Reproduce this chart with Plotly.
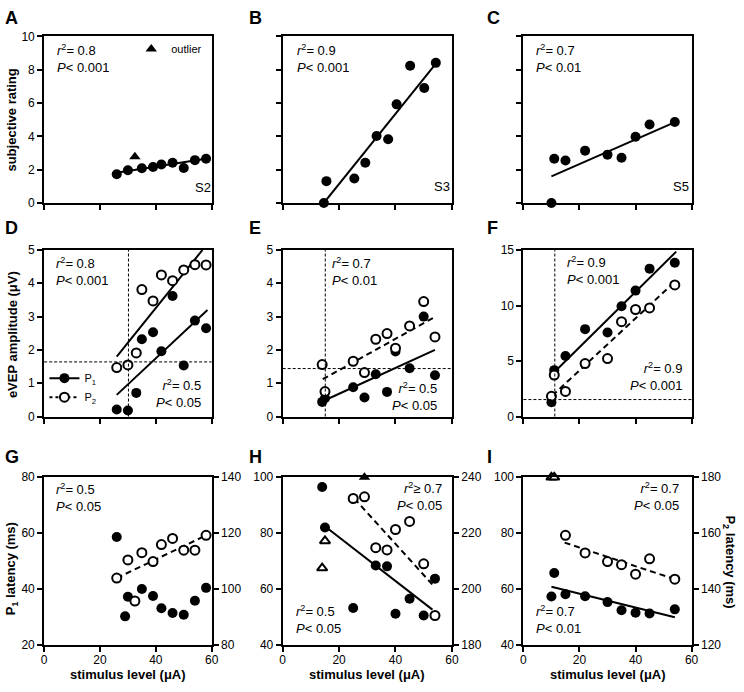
import plotly.graph_objects as go

FONT = "Liberation Sans, Arial, sans-serif"
W, H = 744, 692

# ---- row 1: subjective rating vs stimulus level ----
s2_x = [26, 30, 35, 39, 42, 46, 50, 54, 58]
s2_y = [1.72, 1.96, 2.08, 2.16, 2.31, 2.41, 2.10, 2.57, 2.65]
s2_out_x = [32.5]
s2_out_y = [2.78]
s2_fit_x = [26, 59]
s2_fit_y = [1.82, 2.68]

s3_x = [14.6, 15.5, 25.4, 29.3, 33.3, 37.4, 40.4, 45.2, 50.2, 54.3]
s3_y = [0, 1.31, 1.47, 2.41, 4.02, 3.82, 5.92, 8.24, 6.9, 8.41]
s3_fit_x = [14.6, 54.6]
s3_fit_y = [0, 8.43]

s5_x = [10, 11, 15, 22, 30, 35, 40, 45, 54]
s5_y = [0, 2.65, 2.55, 3.14, 2.90, 2.71, 3.98, 4.71, 4.86]
s5_fit_x = [10, 54.5]
s5_fit_y = [1.6, 4.88]

# ---- row 2: eVEP amplitude (uV) ----
d_x = [26, 30, 33, 35, 39, 42, 46, 50, 54, 58]
d_p1 = [0.21, 0.18, 0.71, 2.32, 2.53, 1.96, 3.62, 1.53, 2.88, 2.65]
d_p2 = [1.47, 1.55, 1.91, 3.81, 3.47, 4.25, 4.08, 4.40, 4.56, 4.55]
d_fit_p1_x, d_fit_p1_y = [26, 58.5], [0.65, 3.2]
d_fit_p2_x, d_fit_p2_y = [26, 56.7], [1.8, 5.0]
d_thr_x, d_thr_y = 30.2, 1.64

e_x = [14, 15, 25, 29, 33, 37, 40, 45, 50, 54]
e_p1 = [0.44, 0.55, 0.88, 0.57, 1.27, 0.74, 1.95, 1.45, 3.0, 1.24]
e_p2 = [1.56, 0.75, 1.66, 1.32, 2.32, 2.49, 2.05, 2.72, 3.45, 2.39]
e_fit_p1_x, e_fit_p1_y = [14.2, 54], [0.46, 2.0]
e_fit_p2_x, e_fit_p2_y = [14.2, 54.2], [1.12, 3.0]
e_thr_x, e_thr_y = 15.1, 1.44

f_x = [10, 11, 15, 22, 30, 35, 40, 45, 54]
f_p1 = [1.29, 4.18, 5.45, 7.87, 7.57, 9.93, 11.34, 13.32, 13.85]
f_p2 = [1.82, 3.74, 2.26, 4.77, 5.22, 8.54, 9.64, 9.78, 11.85]
f_fit_p1_x, f_fit_p1_y = [10.8, 54.5], [3.94, 14.85]
f_fit_p2_x, f_fit_p2_y = [10.3, 54.3], [1.88, 12.2]
f_thr_x, f_thr_y = 11.2, 1.53

# ---- row 3: latencies (ms) ----
g_p1_x = [26, 30, 29, 35, 39, 42, 46, 50, 54, 58]
g_p1 = [58.6, 37.2, 30.2, 40.0, 37.5, 33.1, 31.4, 30.8, 35.8, 40.4]
g_p2_x = [26, 30, 32.5, 35, 39, 42, 46, 50, 54, 58]
g_p2 = [103.9, 110.4, 95.7, 113.0, 109.8, 115.9, 118.1, 113.9, 113.9, 119.2]
g_fit_p2_x, g_fit_p2_y = [26, 58], [103.9, 119.2]

h_p1_x = [14, 15, 25, 33, 37, 40, 45, 50, 54]
h_p1 = [96.5, 82.0, 53.2, 68.4, 68.1, 51.1, 56.5, 50.5, 63.7]
h_p1_out_x, h_p1_out_y = [29], [100]
h_p2_x = [25, 29, 33, 37, 40, 45, 50, 54]
h_p2 = [232.4, 233.0, 214.8, 214.0, 221.3, 224.2, 209.0, 190.5]
h_p2_out_x, h_p2_out_y = [15, 14], [217.2, 207.5]
h_fit_p1_x, h_fit_p1_y = [15.3, 53.1], [82.2, 52.6]
h_fit_p2_x, h_fit_p2_y = [25.4, 53.8], [232.4, 200.8]

i_p1_x = [10, 11, 15, 22, 30, 35, 40, 45, 54]
i_p1 = [57.3, 65.7, 58.1, 57.4, 55.3, 52.4, 51.5, 51.2, 52.7]
i_p2_x = [15, 22, 30, 35, 40, 45, 54]
i_p2 = [159.2, 152.9, 149.8, 148.7, 145.3, 150.8, 143.5]
i_p2_out_x, i_p2_out_y = [10, 11], [180, 180]
i_fit_p1_x, i_fit_p1_y = [10, 54], [60.8, 49.9]
i_fit_p2_x, i_fit_p2_y = [14.7, 53.4], [156.6, 143.7]

# panel boxes in pixels
col_px = [(41.7, 211.5), (283.5, 455), (527.5, 698)]
row_px = [(30, 200), (248, 418), (480, 651)]


def xdom(c):
    return [col_px[c][0] / W, col_px[c][1] / W]


def ydom(r):
    return [1 - row_px[r][1] / H, 1 - row_px[r][0] / H]


def xa(n):
    return "x" if n == 1 else f"x{n}"


def ya(n):
    return "y" if n == 1 else f"y{n}"


fig = go.Figure()

FILLED = dict(symbol="circle", size=10, color="black")
OPEN = dict(symbol="circle", size=9, color="white", line=dict(color="black", width=2))
TRI = dict(symbol="triangle-up", size=10, color="black")
TRI_OPEN = dict(symbol="triangle-up", size=9, color="white", line=dict(color="black", width=2))
SOLID = dict(color="black", width=2)
DASH = dict(color="black", width=2, dash="6px,4px")


def pts(n, x, y, marker, yax=None, **kw):
    fig.add_trace(go.Scatter(x=x, y=y, mode="markers", marker=marker, xaxis=xa(n),
                             yaxis=yax or ya(n), cliponaxis=False,
                             showlegend=kw.pop("showlegend", False), **kw))


def fit(n, x, y, line, yax=None):
    fig.add_trace(go.Scatter(x=x, y=y, mode="lines", line=line, xaxis=xa(n),
                             yaxis=yax or ya(n), showlegend=False))


# A
fit(1, s2_fit_x, s2_fit_y, SOLID)
pts(1, s2_x, s2_y, FILLED)
pts(1, s2_out_x, s2_out_y, TRI, name="outlier", showlegend=True, legend="legend")
# B
fit(2, s3_fit_x, s3_fit_y, SOLID)
pts(2, s3_x, s3_y, FILLED)
# C
fit(3, s5_fit_x, s5_fit_y, SOLID)
pts(3, s5_x, s5_y, FILLED)
# D
fit(4, d_fit_p1_x, d_fit_p1_y, SOLID)
fit(4, d_fit_p2_x, d_fit_p2_y, SOLID)
pts(4, d_x, d_p1, FILLED)
pts(4, d_x, d_p2, OPEN)
# legend entries for P1 / P2
fig.add_trace(go.Scatter(x=[None], y=[None], mode="lines+markers", marker=FILLED, line=SOLID,
                         name="P<sub>1</sub>", legend="legend2", xaxis="x4", yaxis="y4"))
fig.add_trace(go.Scatter(x=[None], y=[None], mode="lines+markers", marker=OPEN,
                         line=dict(color="black", width=2, dash="3px,3px"),
                         name="P<sub>2</sub>", legend="legend2", xaxis="x4", yaxis="y4"))
# E
fit(5, e_fit_p1_x, e_fit_p1_y, SOLID)
fit(5, e_fit_p2_x, e_fit_p2_y, DASH)
pts(5, e_x, e_p1, FILLED)
pts(5, e_x, e_p2, OPEN)
# F
fit(6, f_fit_p1_x, f_fit_p1_y, SOLID)
fit(6, f_fit_p2_x, f_fit_p2_y, DASH)
pts(6, f_x, f_p1, FILLED)
pts(6, f_x, f_p2, OPEN)
# G
fit(7, g_fit_p2_x, g_fit_p2_y, DASH, "y10")
pts(7, g_p1_x, g_p1, FILLED)
pts(7, g_p2_x, g_p2, OPEN, "y10")
# H
fit(8, h_fit_p1_x, h_fit_p1_y, SOLID)
fit(8, h_fit_p2_x, h_fit_p2_y, DASH, "y11")
pts(8, h_p1_x, h_p1, FILLED)
pts(8, h_p1_out_x, h_p1_out_y, TRI)
pts(8, h_p2_x, h_p2, OPEN, "y11")
pts(8, h_p2_out_x, h_p2_out_y, TRI_OPEN, "y11")
# I
fit(9, i_fit_p1_x, i_fit_p1_y, SOLID)
fit(9, i_fit_p2_x, i_fit_p2_y, DASH, "y12")
pts(9, i_p1_x, i_p1, FILLED)
pts(9, i_p2_x, i_p2, OPEN, "y12")
pts(9, i_p2_out_x, i_p2_out_y, TRI_OPEN, "y12")

AX = dict(showline=True, linewidth=2, linecolor="black", ticks="outside", ticklen=5,
          tickwidth=2, tickcolor="black", showgrid=False, zeroline=False,
          tickfont=dict(size=12, color="black"))

y_ranges = [[0, 10], [0, 10], [0, 10], [0, 5], [0, 5], [0, 15], [20, 80], [40, 100], [40, 100]]
y_ticks = [list(range(0, 11, 2))] * 3 + [list(range(6))] * 2 + [[0, 5, 10, 15]] + \
          [[20, 40, 60, 80]] + [[40, 60, 80, 100]] * 2
y_labels = [True, False, False, True, True, True, True, True, True]
right_ranges = [[80, 140], [180, 240], [120, 180]]

lay = {}
for i in range(9):
    r, c = divmod(i, 3)
    n = i + 1
    key = "" if n == 1 else str(n)
    lay[f"xaxis{key}"] = dict(AX, domain=xdom(c), anchor=ya(n), range=[0, 60],
                              tickvals=[0, 20, 40, 60], showticklabels=(r == 2), mirror=True,
                              ticklabelstandoff=-2)
    lay[f"yaxis{key}"] = dict(AX, domain=ydom(r), anchor=xa(n), range=y_ranges[i],
                              tickvals=y_ticks[i], showticklabels=y_labels[i], mirror=(r < 2))
for c in range(3):
    n = 7 + c
    lo, hi = right_ranges[c]
    lay[f"yaxis{10 + c}"] = dict(AX, overlaying=ya(n), anchor=xa(n), side="right",
                                 range=[lo, hi], tickvals=list(range(lo, hi + 1, 20)))

ann = []


def note(n, fx, fy, text, anchor="left", size=13):
    ann.append(dict(xref=f"{xa(n)} domain", yref=f"{ya(n)} domain", x=fx, y=fy, text=text,
                    xanchor=anchor, yanchor="middle", align=anchor, showarrow=False,
                    font=dict(size=size)))


def stat(r2, p, sym="="):
    return f"<i>r</i><sup>2</sup>{sym} {r2}<br><i>P</i>&lt; {p}"


note(1, 0.067, 0.87, stat("0.8", "0.001"))
note(2, 0.071, 0.87, stat("0.9", "0.001"))
note(3, 0.063, 0.87, stat("0.7", "0.01"))
note(1, 0.886, 0.092, "S2")
note(2, 0.883, 0.098, "S3")
note(3, 0.875, 0.098, "S5")
note(4, 0.061, 0.873, stat("0.8", "0.001"))
note(4, 0.947, 0.138, stat("0.5", "0.05"), "right")
note(5, 0.281, 0.869, stat("0.7", "0.01"))
note(5, 0.922, 0.121, stat("0.5", "0.05"), "right")
note(6, 0.249, 0.878, stat("0.9", "0.001"))
note(6, 0.953, 0.238, stat("0.9", "0.001"), "right")
note(7, 0.059, 0.881, stat("0.5", "0.05"))
note(8, 0.952, 0.885, stat("0.7", "0.05", "≥"), "right")
note(8, 0.067, 0.150, stat("0.5", "0.05"))
note(9, 0.937, 0.885, stat("0.7", "0.05"), "right")
note(9, 0.063, 0.150, stat("0.7", "0.01"))

# panel letters
for k, letter in enumerate("ABCDEFGHI"):
    r, c = divmod(k, 3)
    ann.append(dict(xref="paper", yref="paper", x=[0, 247, 489][c] / W,
                    y=1 - [11, 225.5, 459][r] / H, text=f"<b>{letter}</b>",
                    xanchor="left", yanchor="middle", showarrow=False, font=dict(size=18)))

# axis titles
TT = dict(xref="paper", yref="paper", showarrow=False, xanchor="center", yanchor="middle",
          font=dict(size=13))
ann.append(dict(TT, x=9 / W, y=1 - 115 / H, text="<b>subjective rating</b>", textangle=-90))
ann.append(dict(TT, x=9 / W, y=1 - 334 / H, text="<b>eVEP amplitude (μV)</b>", textangle=-90))
ann.append(dict(TT, x=9 / W, y=1 - 573 / H, text="<b>P<sub>1</sub> latency (ms)</b>", textangle=-90))
ann.append(dict(TT, x=736 / W, y=1 - 566 / H, text="<b>P<sub>2</sub> latency (ms)</b>", textangle=90))
for c in range(3):
    ann.append(dict(TT, x=sum(col_px[c]) / 2 / W, y=1 - 681 / H, text="<b>stimulus level (μA)</b>"))

# dotted threshold lines in D-F
shapes = []
for n, tx, ty in [(4, d_thr_x, d_thr_y), (5, e_thr_x, e_thr_y), (6, f_thr_x, f_thr_y)]:
    dot = dict(color="black", width=1, dash="3px,2px")
    shapes.append(dict(type="line", xref=xa(n), yref=f"{ya(n)} domain", x0=tx, x1=tx, y0=0, y1=1, line=dot))
    shapes.append(dict(type="line", xref=f"{xa(n)} domain", yref=ya(n), x0=0, x1=1, y0=ty, y1=ty, line=dot))

fig.update_layout(
    width=W, height=H, margin=dict(l=0, r=0, t=0, b=0),
    paper_bgcolor="white", plot_bgcolor="white",
    font=dict(family=FONT, color="black", size=12),
    annotations=ann, shapes=shapes,
    legend=dict(x=130 / W, y=1 - 28 / H, xanchor="left", yanchor="top",
                bgcolor="rgba(0,0,0,0)", font=dict(size=11)),
    legend2=dict(x=42 / W, y=1 - 364 / H, xanchor="left", yanchor="top",
                 bgcolor="rgba(0,0,0,0)", font=dict(size=11), tracegroupgap=0),
    **lay,
)

# page body has a default 8px margin; drop it so the figure sits at the corner
fig.write_html("out.html", config={"displayModeBar": False},
               post_script="document.body.style.margin='0px';")
